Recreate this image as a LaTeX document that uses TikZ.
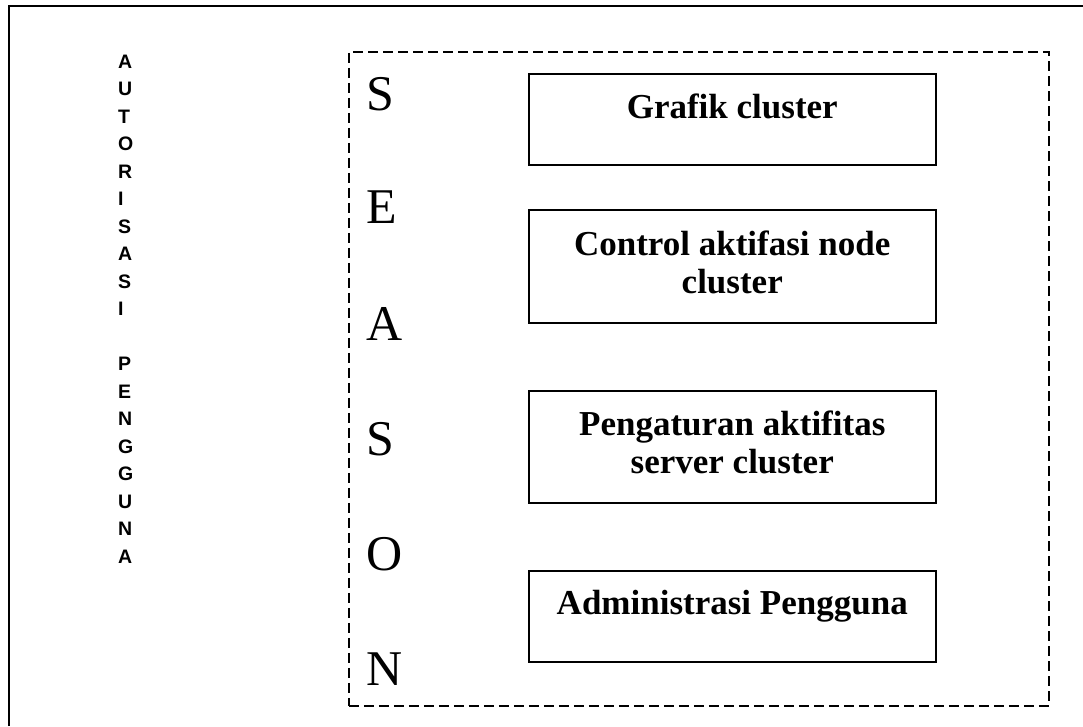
\documentclass[tikz,border=0pt]{standalone}
\usepackage{fontspec}
\setmainfont{Liberation Serif}
\newfontfamily\arialfont{Liberation Sans}
\usetikzlibrary{calc}
\begin{document}
\begin{tikzpicture}[x=1pt,y=-1pt,
  frameline/.style={line width=2pt},
  sessionframe/.style={draw, line width=1.5pt, dash pattern=on 10pt off 5pt, anchor=north west, inner sep=0pt},
  menubox/.style={draw, line width=1.5pt, minimum width=407pt, anchor=north west, inner sep=0pt},
  menutext/.style={font=\bfseries\fontsize{35}{38}\selectfont, anchor=base, inner sep=0pt},
  sletter/.style={font=\fontsize{50}{50}\selectfont, anchor=base west, inner sep=0pt},
  aletter/.style={font=\arialfont\bfseries\fontsize{19.5}{19.5}\selectfont, anchor=base west, inner sep=0pt}]
\useasboundingbox (0,0) rectangle (1083,726);
% outer frame
\coordinate (fbl) at (9,726);
\coordinate (ftl) at (9,6);
\coordinate (ftr) at (1083,6);
\draw[frameline] (fbl) -- (ftl) -- (ftr);
% left vertical text
\foreach \ch [count=\i] in {A,U,T,O,R,I,S,A,S,I}
  \node[aletter] (au\i) at (118,{68+27.5*(\i-1)}) {\ch};
\foreach \ch [count=\i] in {P,E,N,G,G,U,N,A}
  \node[aletter] (pg\i) at (118,{68+27.5*(\i+10)}) {\ch};
% session frame
\node[sessionframe, minimum width=700pt, minimum height=654pt] (sesi) at (348,51) {};
% SEASON letters
\node[sletter] (s1) at (366,110) {S};
\node[sletter] (s2) at (366,223) {E};
\node[sletter] (s3) at (366,340) {A};
\node[sletter] (s4) at (366,455) {S};
\node[sletter] (s5) at (366,570) {O};
\node[sletter] (s6) at (366,685) {N};
% menu boxes
\node[menubox, minimum height=91pt] (b1) at (528,73) {};
\node[menubox, minimum height=113pt] (b2) at (528,209) {};
\node[menubox, minimum height=112pt] (b3) at (528,390) {};
\node[menubox, minimum height=91pt] (b4) at (528,570) {};
\node[menutext] (t1) at ($(b1.north)+(0,45)$) {Grafik cluster};
\node[menutext] (t2) at ($(b2.north)+(0,46)$) {\begin{tabular}[t]{@{}c@{}}Control aktifasi node\\cluster\end{tabular}};
\node[menutext] (t3) at ($(b3.north)+(0,45)$) {\begin{tabular}[t]{@{}c@{}}Pengaturan aktifitas\\server cluster\end{tabular}};
\node[menutext] (t4) at ($(b4.north)+(0,44)$) {Administrasi Pengguna};
\end{tikzpicture}
\end{document}
